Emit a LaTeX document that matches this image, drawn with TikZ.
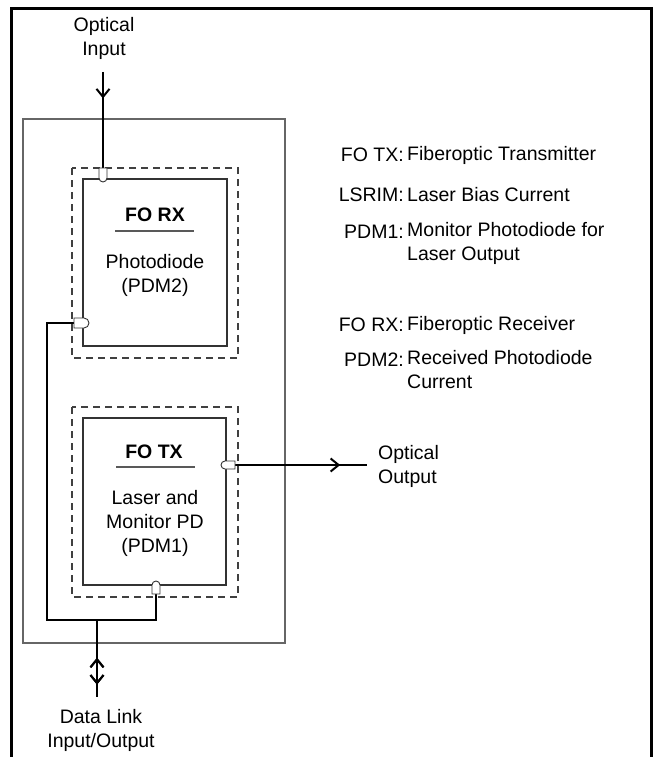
\documentclass[tikz,border=0pt]{standalone}
\usepackage{fontspec}
\setmainfont{Liberation Sans}
\usetikzlibrary{arrows.meta,decorations.markings}
\begin{document}
\begin{tikzpicture}[x=1pt,y=-1pt,
  lbl/.style={font=\fontsize{19.5}{24}\selectfont, inner sep=0pt, align=center},
  lbll/.style={font=\fontsize{19.5}{24}\selectfont, inner sep=0pt, align=left},
  wire/.style={line width=2pt, line join=miter},
  frame/.style={line width=3pt},
  mainbox/.style={draw=black!60, line width=1.4pt},
  dashbox/.style={draw=black!75, line width=1.3pt, dash pattern=on 7pt off 5pt},
  innerbox/.style={draw=black!80, line width=1.3pt},
  uline/.style={draw=black!65, line width=1.3pt},
  conn/.style={draw=black!80, fill=white, line width=0.9pt},
  tipfwd/.style={postaction={decorate}, decoration={markings, mark=at position #1 with {\arrow{Straight Barb[length=8pt,width=13pt]}}}},
  tiprev/.style={postaction={decorate}, decoration={markings, mark=at position #1 with {\arrowreversed{Straight Barb[length=8pt,width=13pt]}}}}
]
\useasboundingbox (0,0) rectangle (653,757);

% outer frame (three sides)
\draw[frame] (11,757) -- (11,9) -- (651,9) -- (651,757);

% main enclosure
\draw[mainbox] (23,119) rectangle (285,643);

% receiver
\draw[dashbox] (72,168) rectangle (238,358);
\draw[innerbox] (83,179) rectangle (227,346);
\node[lbl, font=\fontsize{19.5}{24}\selectfont\bfseries] (rxt) at (155,215) {FO RX};
\draw[uline] (115,231) -- (194,231);
\node[lbl] (rxd) at (155,275) {Photodiode\\(PDM2)};

% transmitter
\draw[dashbox] (72,407) rectangle (238,597);
\draw[innerbox] (83,418) rectangle (226,585);
\node[lbl, font=\fontsize{19.5}{24}\selectfont\bfseries] (txt) at (154,452) {FO TX};
\draw[uline] (116,467) -- (195,467);
\node[lbl] (txd) at (155,523) {Laser and\\Monitor PD\\(PDM1)};

% connector coordinates
\coordinate (inTop) at (103,72);
\coordinate (rxTop) at (103,170);
\coordinate (rxLeft) at (76,323);
\coordinate (cA) at (47,323);
\coordinate (cB) at (47,620);
\coordinate (cC) at (156,620);
\coordinate (txBot) at (156,592);
\coordinate (dlTop) at (97,620);
\coordinate (dlBot) at (97,697);
\coordinate (txRight) at (233,465);
\coordinate (outEnd) at (367,465);

% wires
\draw[wire, tipfwd=0.27] (inTop) -- (rxTop);
\draw[wire] (rxLeft) -- (cA) -- (cB) -- (cC) -- (txBot);
\draw[wire, tiprev=0.49, tipfwd=0.84] (dlTop) -- (dlBot);
\draw[wire, tipfwd=0.80] (txRight) -- (outEnd);

% connector bodies
\draw[conn] (99,168) -- (99,178) arc[start angle=180, end angle=0, radius=4] -- (107,168) -- cycle;
\draw[conn] (74,318) -- (84,318) arc[start angle=-90, end angle=90, radius=5] -- (74,328) -- cycle;
\draw[conn] (235,461) -- (225,461) arc[start angle=-90, end angle=-270, radius=4] -- (235,469) -- cycle;
\draw[conn] (152,594) -- (152,585) arc[start angle=180, end angle=360, radius=4] -- (160,594) -- cycle;

% external labels
\node[lbl] (oin) at (104,38) {Optical\\Input};
\node[lbl] (dl) at (101,730) {Data Link\\Input/Output};
\node[lbll, anchor=west] (oout) at (378,466) {Optical\\Output};

% legend
\node[lbl, anchor=east] (k1) at (404,155) {FO TX:};
\node[lbll, anchor=west] (v1) at (407,155) {Fiberoptic Transmitter};
\node[lbl, anchor=east] (k2) at (404,195) {LSRIM:};
\node[lbll, anchor=west] (v2) at (407,195) {Laser Bias Current};
\node[lbl, anchor=east] (k3) at (404,232) {PDM1:};
\node[lbll, anchor=north west] (v3) at (407,222) {Monitor Photodiode for\\Laser Output};
\node[lbl, anchor=east] (k4) at (404,325) {FO RX:};
\node[lbll, anchor=west] (v4) at (407,325) {Fiberoptic Receiver};
\node[lbl, anchor=east] (k5) at (404,360) {PDM2:};
\node[lbll, anchor=north west] (v5) at (407,350) {Received Photodiode\\Current};
\end{tikzpicture}
\end{document}
